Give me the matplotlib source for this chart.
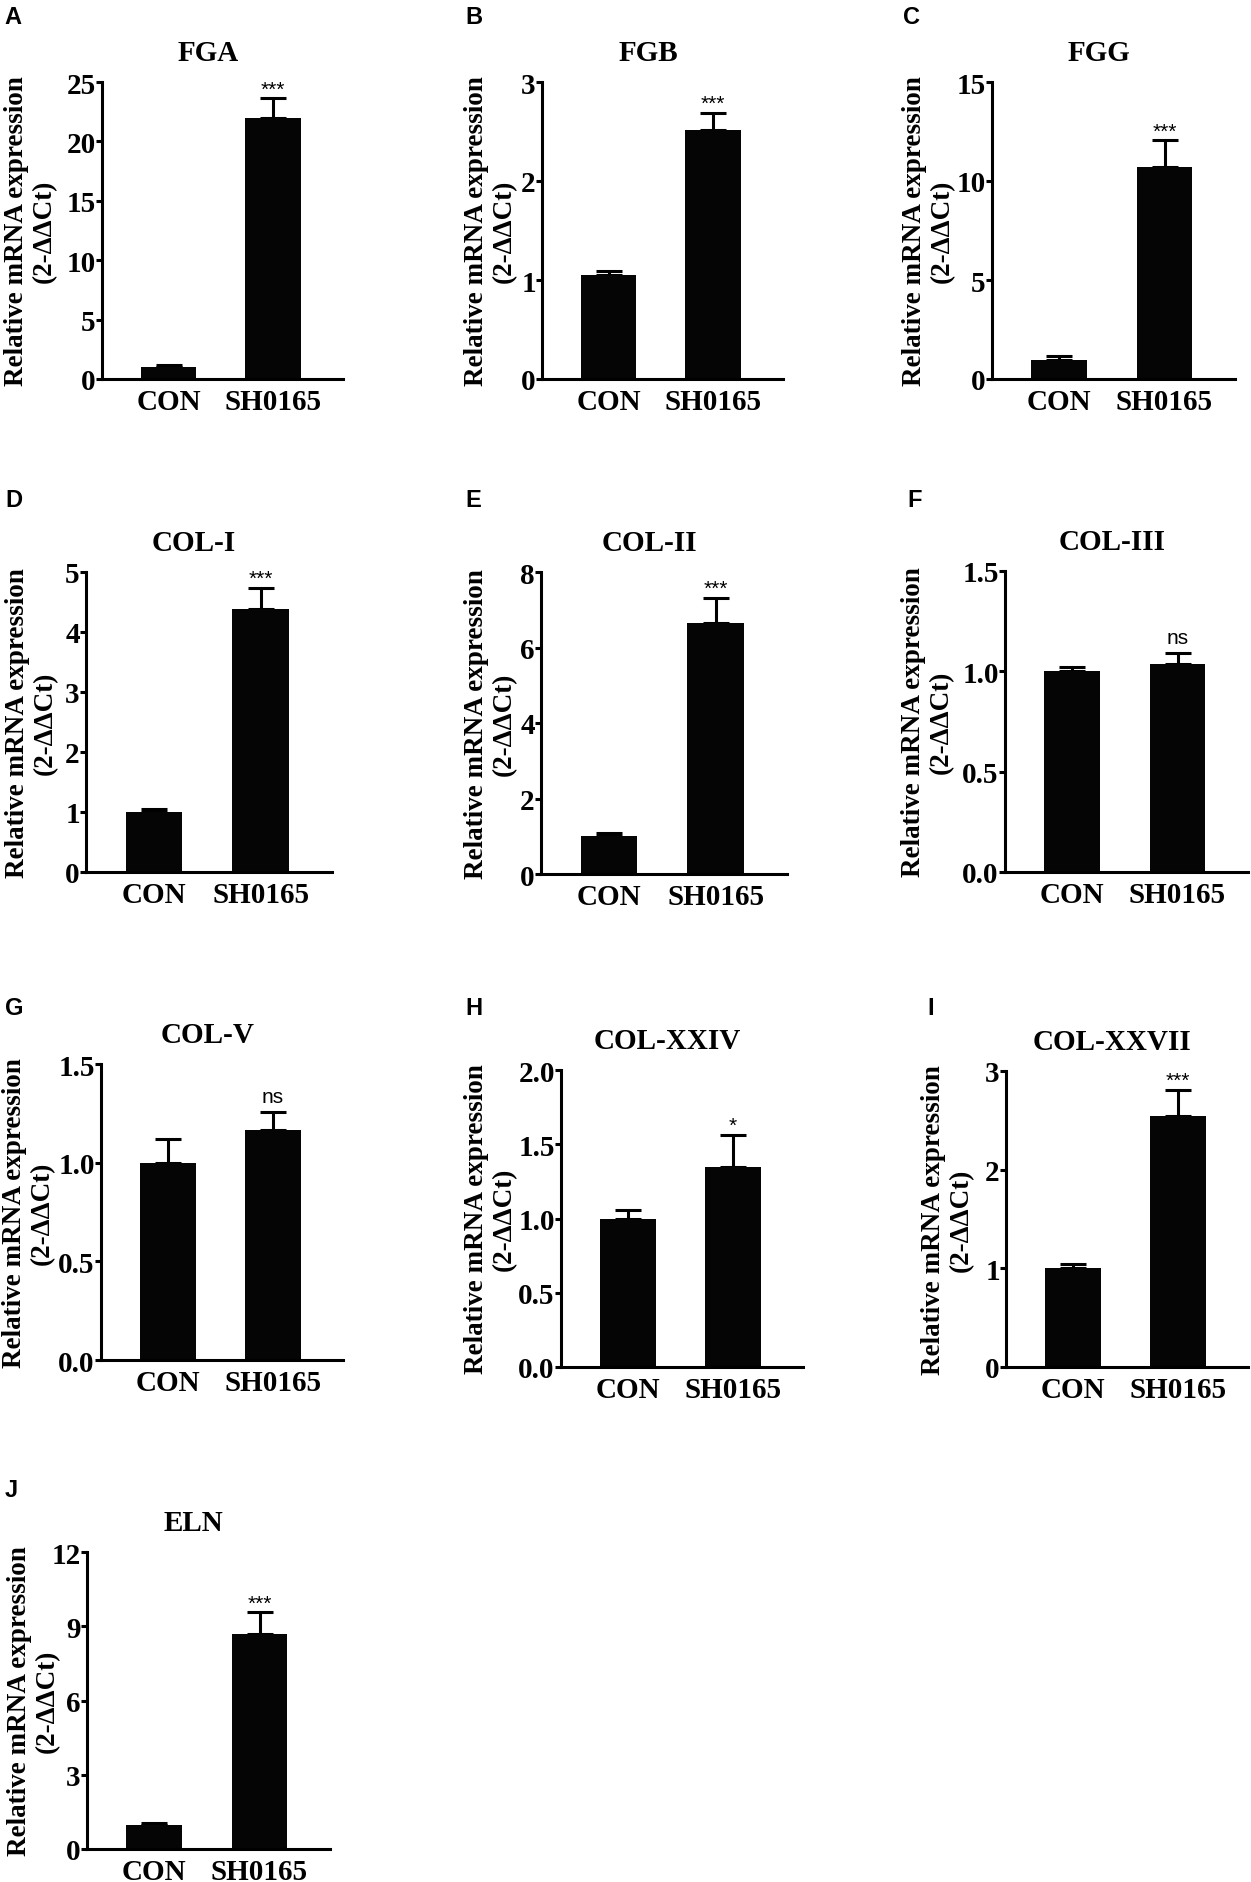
import numpy as np
import matplotlib
matplotlib.use('agg')
import matplotlib.pyplot as plt
from matplotlib import rcParams

rcParams['font.family'] = ['Liberation Serif', 'DejaVu Serif']
rcParams['font.weight'] = 'bold'

# data
genes = ['FGA', 'FGB', 'FGG', 'COL-I', 'COL-II', 'COL-III',
         'COL-V', 'COL-XXIV', 'COL-XXVII', 'ELN']
panels = ['A', 'B', 'C', 'D', 'E', 'F', 'G', 'H', 'I', 'J']
groups = ['CON', 'SH0165']
con_mean = [1.0, 1.05, 0.97, 1.0, 1.0, 1.0, 1.0, 1.0, 1.0, 0.98]
con_err = [0.2, 0.045, 0.2, 0.05, 0.086, 0.02, 0.12, 0.06, 0.04, 0.07]
sh_mean = [22.0, 2.52, 10.7, 4.38, 6.64, 1.035, 1.166, 1.35, 2.54, 8.69]
sh_err = [1.65, 0.17, 1.35, 0.36, 0.68, 0.058, 0.092, 0.215, 0.27, 0.87]
sig = ['***', '***', '***', '***', '***', 'ns', 'ns', '*', '***', '***']
ymax = [25, 3, 15, 5, 8, 1.5, 1.5, 2.0, 3, 12]
ystep = [5, 1, 5, 1, 2, 0.5, 0.5, 0.5, 1, 3]

W, H = 1251, 1883
# axes boxes in pixels: left, top, right, bottom
boxes = [(102, 83, 343, 380), (542, 83, 783, 380), (992, 83, 1235, 380),
         (86, 573, 332, 873), (541, 573, 787, 875), (1005, 572, 1248, 873),
         (101, 1065, 343, 1361), (561, 1071, 803, 1368), (1006, 1072, 1248, 1368),
         (87, 1553, 330, 1850)]
# right edge (pixels) of the y label block
ylab_x = [57, 517, 955, 58, 517, 954, 55, 517, 974, 60]
letter_pos = [(4, 24), (465, 24), (903, 24),
              (5, 507), (465, 507), (907, 507),
              (5, 1015), (465, 1015), (927, 1015),
              (5, 1497)]

fig = plt.figure(figsize=(W / 100, H / 100), dpi=100)
lw = 2.2
x = np.arange(2)

for i, g in enumerate(genes):
    l, t, r, b = boxes[i]
    ax = fig.add_axes([l / W, 1 - b / H, (r - l) / W, (b - t) / H])
    means = [con_mean[i], sh_mean[i]]
    errs = [con_err[i], sh_err[i]]
    ax.bar(x, means, width=0.53, color='#050505', zorder=2)
    ax.errorbar(x, means, yerr=[[0, 0], errs], fmt='none', ecolor='black',
                elinewidth=lw, capsize=9.5, capthick=lw, zorder=1)
    ax.set_xlim(-0.64, 1.67)
    ax.set_ylim(0, ymax[i])
    ticks = np.arange(0, ymax[i] + ystep[i] / 2, ystep[i])
    ax.set_yticks(ticks)
    if ystep[i] < 1:
        ax.set_yticklabels(['%.1f' % v for v in ticks])
    else:
        ax.set_yticklabels(['%d' % v for v in ticks])
    ax.set_xticks(x)
    ax.set_xticklabels(groups)
    for s in ['top', 'right']:
        ax.spines[s].set_visible(False)
    for s in ['left', 'bottom']:
        ax.spines[s].set_linewidth(lw)
    ax.tick_params(axis='y', length=4, width=lw, pad=0.5, labelsize=21)
    ax.tick_params(axis='x', length=0, pad=6.5, labelsize=21)
    ax.set_title(g, x=0.44, pad=16, fontsize=21, fontweight='bold')
    ax.set_ylabel('Relative mRNA expression\n(2-ΔΔCt)', fontsize=19.5,
                  fontweight='bold', linespacing=1.15)
    ax.yaxis.set_label_coords((ylab_x[i] - l) / (r - l), 0.5)
    top = means[1] + errs[1]
    if sig[i] == 'ns':
        off = 7
    else:
        off = 2.5
    ax.annotate(sig[i], xy=(1, top), xytext=(0, off), textcoords='offset points',
                ha='center', va='baseline', fontsize=15, fontweight='normal',
                family=['Liberation Sans', 'DejaVu Sans'])
    lx, ly = letter_pos[i]
    fig.text(lx / W, 1 - ly / H, panels[i], fontsize=17, fontweight='bold',
             family=['Liberation Sans', 'DejaVu Sans'], va='baseline', ha='left')

fig.savefig('out.png', dpi=100)
